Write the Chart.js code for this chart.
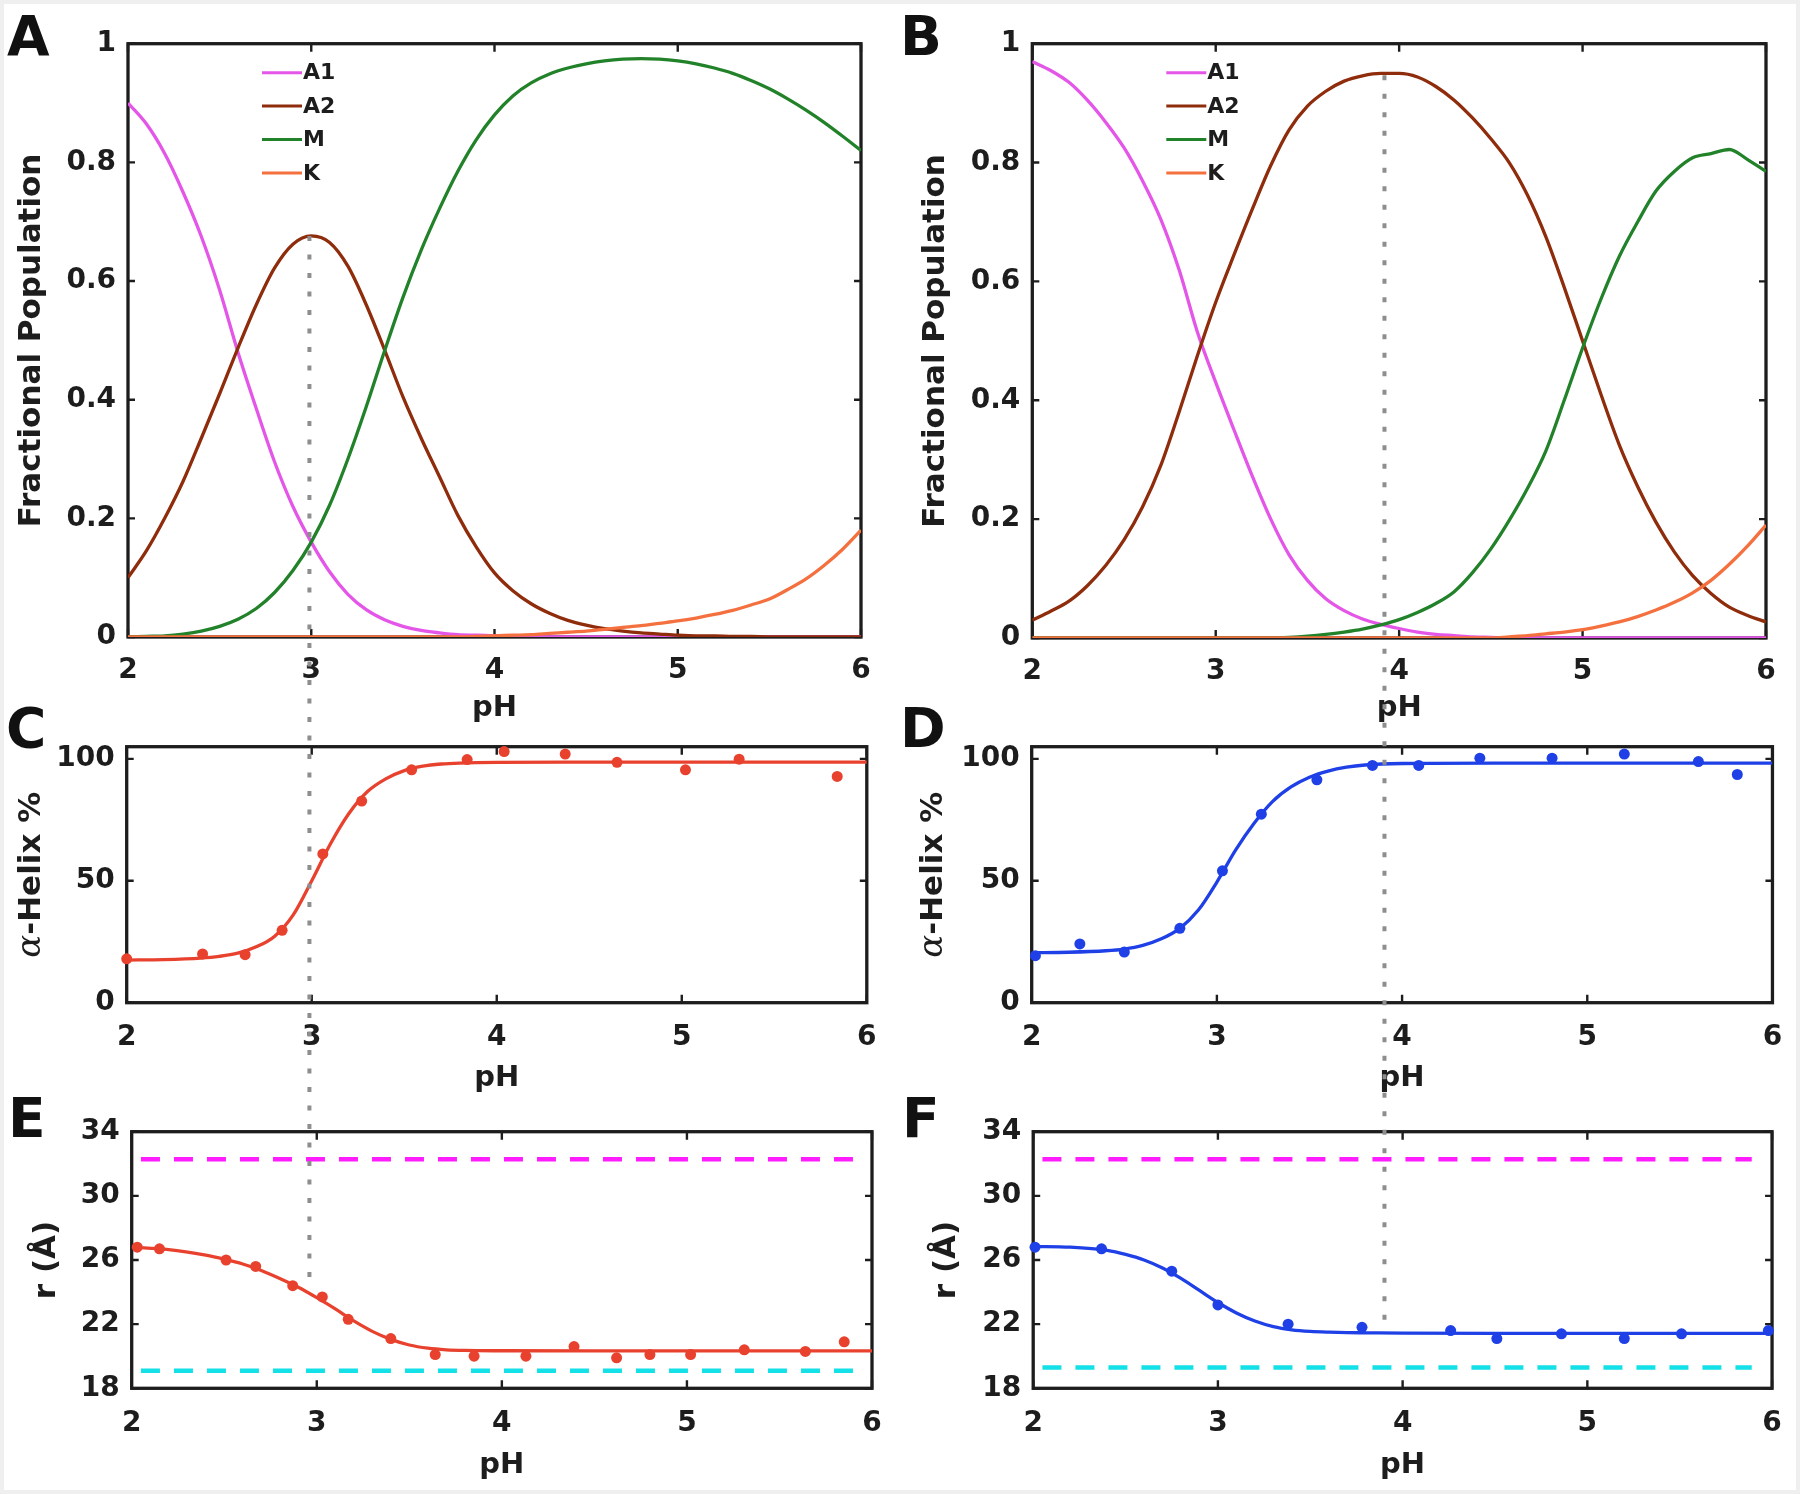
<!DOCTYPE html>
<html>
<head>
<meta charset="utf-8">
<script src="https://cdn.jsdelivr.net/npm/chart.js@4.4.1/dist/chart.umd.min.js"></script>
<style>
html,body{margin:0;padding:0;background:#fff;}
#fig{position:relative;width:1800px;height:1494px;background:#fff;overflow:hidden;box-shadow:inset 0 0 0 4px #efefef;}
#fig canvas{position:absolute;}
#overlay{z-index:10;pointer-events:none;}
.lbl{position:absolute;font-family:"DejaVu Sans",sans-serif;font-weight:bold;font-size:55px;line-height:55px;color:#111;z-index:11;}
</style>
</head>
<body>
<div id="fig">
  <canvas id="cA"></canvas>
  <canvas id="cB"></canvas>
  <canvas id="cC"></canvas>
  <canvas id="cD"></canvas>
  <canvas id="cE"></canvas>
  <canvas id="cF"></canvas>
  <canvas id="overlay"></canvas>
  <div class="lbl" style="left:7px;top:8.5px">A</div>
  <div class="lbl" style="left:900px;top:8.5px">B</div>
  <div class="lbl" style="left:6px;top:701px">C</div>
  <div class="lbl" style="left:900px;top:701px">D</div>
  <div class="lbl" style="left:8px;top:1090.5px">E</div>
  <div class="lbl" style="left:902px;top:1090.5px">F</div>
</div>
<script>
// ---------------- DATA ----------------
const phTicks = [2, 3, 4, 5, 6];
const phTickLabels = ['2', '3', '4', '5', '6'];
const fracTicks = [0, 0.2, 0.4, 0.6, 0.8, 1];
const fracTickLabels = ['0', '0.2', '0.4', '0.6', '0.8', '1'];
const helixTicks = [0, 50, 100];
const helixTickLabels = ['0', '50', '100'];
const radiusTicks = [18, 22, 26, 30, 34];
const radiusTickLabels = ['18', '22', '26', '30', '34'];
const stateNames = ['A1', 'A2', 'M', 'K'];

const phGrid = [2.0,2.1,2.2,2.3,2.4,2.5,2.6,2.7,2.8,2.9,3.0,3.1,3.2,3.3,3.4,3.5,3.6,3.7,3.8,3.9,4.0,
                4.1,4.2,4.3,4.4,4.5,4.6,4.7,4.8,4.9,5.0,5.1,5.2,5.3,5.4,5.5,5.6,5.7,5.8,5.9,6.0];

// Panel A: fractional populations
const popA_A1 = [0.900,0.865,0.815,0.750,0.675,0.585,0.480,0.385,0.295,0.220,0.160,0.110,0.072,0.046,0.029,0.018,0.011,0.007,0.004,0.003,0.002,
                 0.001,0.001,0,0,0,0,0,0,0,0,0,0,0,0,0,0,0,0,0,0];
const popA_A2 = [0.100,0.145,0.200,0.262,0.335,0.410,0.487,0.560,0.622,0.662,0.676,0.665,0.625,0.560,0.484,0.405,0.335,0.270,0.205,0.152,0.108,
                 0.078,0.056,0.040,0.028,0.020,0.014,0.010,0.007,0.005,0.003,0.002,0.002,0.001,0.001,0,0,0,0,0,0];
const popA_M  = [0.000,0.001,0.002,0.005,0.010,0.018,0.030,0.048,0.075,0.112,0.160,0.222,0.300,0.388,0.482,0.572,0.652,0.722,0.785,0.838,0.880,
                 0.912,0.934,0.949,0.959,0.966,0.971,0.974,0.975,0.974,0.971,0.966,0.959,0.950,0.938,0.924,0.907,0.888,0.867,0.844,0.820];
const popA_K  = [0,0,0,0,0,0,0,0,0,0,0,0,0,0,0,0,0,0,0,0.001,0.002,
                 0.003,0.004,0.006,0.008,0.010,0.013,0.016,0.019,0.023,0.027,0.032,0.038,0.045,0.054,0.064,0.080,0.098,0.121,0.148,0.180];

// Panel B: fractional populations
const popB_A1 = [0.970,0.955,0.935,0.905,0.868,0.825,0.770,0.705,0.620,0.515,0.430,0.350,0.272,0.200,0.140,0.097,0.066,0.046,0.032,0.023,0.016,
                 0.010,0.006,0.004,0.002,0.001,0,0,0,0,0,0,0,0,0,0,0,0,0,0,0];
const popB_A2 = [0.030,0.045,0.062,0.088,0.122,0.165,0.220,0.290,0.380,0.475,0.565,0.645,0.722,0.795,0.855,0.895,0.920,0.937,0.946,0.950,0.950,
                 0.944,0.928,0.905,0.875,0.840,0.800,0.745,0.675,0.590,0.500,0.410,0.325,0.255,0.195,0.145,0.105,0.075,0.052,0.038,0.027];
const popB_M  = [0,0,0,0,0,0,0,0,0,0,0,0,0,0,0.001,0.003,0.006,0.010,0.015,0.022,0.031,
                 0.043,0.058,0.078,0.110,0.150,0.198,0.252,0.315,0.400,0.488,0.570,0.642,0.700,0.752,0.785,0.808,0.815,0.822,0.805,0.785];
const popB_K  = [0,0,0,0,0,0,0,0,0,0,0,0,0,0,0,0,0,0,0,0,0,
                 0,0,0,0,0,0.002,0.004,0.007,0.010,0.014,0.020,0.027,0.036,0.047,0.060,0.076,0.097,0.124,0.155,0.190];

// Panel C: alpha-helix % (red)
const phC = [2.0, 2.41, 2.64, 2.84, 3.06, 3.27, 3.54, 3.84, 4.04, 4.37, 4.65, 5.02, 5.31, 5.84];
const helixC = [18.0, 20.0, 19.7, 29.7, 61.0, 82.7, 95.5, 99.7, 103.0, 102.0, 98.6, 95.5, 99.9, 92.8];
const phFit = [2.0,2.2,2.4,2.5,2.6,2.7,2.8,2.9,3.0,3.1,3.2,3.3,3.4,3.5,3.6,3.7,3.8,4.0,4.5,5.0,5.5,6.0];
const helixFitC = [17.5,17.7,18.3,19.0,20.3,22.9,27.3,36.0,50.0,65.0,77.5,86.5,91.8,95.2,97.0,97.9,98.3,98.6,98.7,98.7,98.7,98.7];

// Panel D: alpha-helix % (blue)
const phD = [2.02, 2.26, 2.5, 2.8, 3.03, 3.24, 3.54, 3.84, 4.09, 4.42, 4.81, 5.2, 5.6, 5.81];
const helixD = [19.3, 24.1, 20.8, 30.5, 54.1, 77.3, 91.4, 97.3, 97.3, 100.3, 100.3, 102.0, 98.9, 93.6];
const helixFitD = [20.5,20.7,21.3,22.0,23.5,26.2,30.5,38.0,49.5,62.5,73.5,82.5,88.5,92.5,95.0,96.6,97.5,98.1,98.3,98.3,98.3,98.3];

// Panel E: r (Å) (red)
const phE = [2.03, 2.15, 2.51, 2.67, 2.87, 3.03, 3.17, 3.4, 3.64, 3.85, 4.13, 4.39, 4.62, 4.8, 5.02, 5.31, 5.64, 5.85];
const radiusE = [26.8, 26.7, 26.0, 25.6, 24.4, 23.7, 22.3, 21.1, 20.1, 20.0, 20.0, 20.6, 19.9, 20.1, 20.1, 20.4, 20.3, 20.9];
const radiusFitE = [26.8,26.65,26.3,26.05,25.75,25.35,24.85,24.3,23.65,22.95,22.2,21.55,21.05,20.7,20.5,20.4,20.36,20.34,20.33,20.33,20.33,20.33];

// Panel F: r (Å) (blue)
const phF = [2.01, 2.37, 2.75, 3.0, 3.38, 3.78, 4.26, 4.51, 4.86, 5.2, 5.51, 5.98];
const radiusF = [26.8, 26.7, 25.3, 23.2, 22.0, 21.8, 21.6, 21.1, 21.4, 21.1, 21.4, 21.6];
const radiusFitF = [26.85,26.8,26.6,26.35,26.0,25.5,24.85,24.1,23.35,22.7,22.2,21.85,21.65,21.55,21.5,21.47,21.46,21.44,21.43,21.43,21.43,21.43];

// Reference radii (dashed lines)
const refPhE = [2.05, 5.92];
const refPhF = [2.05, 5.89];
const refOpenE = [32.28, 32.28];
const refCompactE = [19.1, 19.1];
const refOpenF = [32.28, 32.28];
const refCompactF = [19.3, 19.3];

// Vertical guide lines (pH, value at top panel, value at bottom panel)
const guideLeft = {ph: 2.99, top: 0.676, bottom: 24.3};
const guideRight = {ph: 3.92, top: 0.947, bottom: 21.6};

// ---------------- STYLE ----------------
const FONT = '"DejaVu Sans", sans-serif';
const INK = '#1d1d1d';
const C_A1 = '#e456e8', C_A2 = '#8e2c0c', C_M = '#22822a', C_K = '#f4703e';
const RED = '#e8422f', BLUE = '#1e40e6';
const MAGENTA = '#ff1cff', CYAN = '#14e0e8';
const TICK_SIZE = 28, PH_SIZE = 29, YT_SIZE = 31;

function pts(xs, ys) { return xs.map((x, i) => ({x: x, y: ys[i]})); }

const framePlugin = {
  id: 'frame',
  beforeDatasetsDraw(chart) {
    const {ctx, chartArea: a, scales: {x, y}} = chart;
    ctx.save();
    ctx.strokeStyle = INK;
    ctx.lineWidth = 3.3;
    ctx.strokeRect(a.left, a.top, a.right - a.left, a.bottom - a.top);
    ctx.lineWidth = 2.4;
    ctx.beginPath();
    x.ticks.forEach(t => {
      const px = x.getPixelForValue(t.value);
      ctx.moveTo(px, a.bottom); ctx.lineTo(px, a.bottom - 8);
      ctx.moveTo(px, a.top); ctx.lineTo(px, a.top + 8);
    });
    y.ticks.forEach(t => {
      const py = y.getPixelForValue(t.value);
      ctx.moveTo(a.left, py); ctx.lineTo(a.left + 7, py);
      ctx.moveTo(a.right, py); ctx.lineTo(a.right - 7, py);
    });
    ctx.stroke();
    ctx.restore();
  }
};

const stateLegend = {
  id: 'stateLegend',
  afterDatasetsDraw(chart, args, opts) {
    if (!opts || !opts.show) return;
    const {ctx, chartArea: a} = chart;
    ctx.save();
    stateNames.forEach((name, i) => {
      const ds = chart.data.datasets.find(d => d.label === name);
      const yy = a.top + 29 + i * 33.4;
      ctx.strokeStyle = ds.borderColor;
      ctx.lineWidth = 3;
      ctx.beginPath();
      ctx.moveTo(a.left + 134, yy); ctx.lineTo(a.left + 174, yy);
      ctx.stroke();
      ctx.fillStyle = INK;
      ctx.font = 'bold 22px ' + FONT;
      ctx.textBaseline = 'middle';
      ctx.textAlign = 'left';
      ctx.fillText(name, a.left + 175, yy + 1);
    });
    ctx.restore();
  }
};

const helixTitle = {
  id: 'helixTitle',
  afterDraw(chart, args, opts) {
    if (!opts || !opts.show) return;
    const {ctx, chartArea: a} = chart;
    const cy = (a.top + a.bottom) / 2;
    ctx.save();
    ctx.translate(opts.x, cy);
    ctx.rotate(-Math.PI / 2);
    const f1 = 'italic 34px "DejaVu Serif", serif';
    const f2 = 'bold ' + YT_SIZE + 'px ' + FONT;
    ctx.font = f1; const w1 = ctx.measureText('\u03b1').width;
    ctx.font = f2; const w2 = ctx.measureText('-Helix %').width;
    const u = -(w1 + w2) / 2;
    ctx.fillStyle = INK;
    ctx.textBaseline = 'alphabetic';
    ctx.textAlign = 'left';
    ctx.font = f1; ctx.fillText('\u03b1', u, 0);
    ctx.font = f2; ctx.fillText('-Helix %', u + w1, 0);
    ctx.restore();
  }
};

function panel(id, box, area, o) {
  const cv = document.getElementById(id);
  cv.width = box.w; cv.height = box.h;
  cv.style.left = box.x + 'px'; cv.style.top = box.y + 'px';
  const yW = area.l - box.x, xH = box.y + box.h - area.b;
  const padTop = area.t - box.y, padRight = box.x + box.w - area.r;
  return new Chart(cv, {
    type: 'scatter',
    data: {datasets: o.datasets},
    options: {
      responsive: false, animation: false, devicePixelRatio: 1,
      layout: {padding: {top: padTop, right: padRight, left: 0, bottom: 0}},
      plugins: {
        legend: {display: false}, tooltip: {enabled: false},
        stateLegend: {show: !!o.legend},
        helixTitle: {show: !!o.helixX, x: o.helixX}
      },
      scales: {
        x: {
          type: 'linear', min: 2, max: 6,
          afterBuildTicks: s => { s.ticks = phTicks.map(v => ({value: v})); },
          afterFit: s => { s.height = xH; },
          grid: {display: false, drawTicks: false},
          border: {display: false},
          ticks: {color: INK, font: {family: FONT, size: TICK_SIZE, weight: 'bold'}, padding: o.xPad,
                  maxRotation: 0, autoSkip: false, callback: (v, i) => phTickLabels[i]},
          title: {display: true, text: 'pH', color: INK, font: {family: FONT, size: PH_SIZE, weight: 'bold'},
                  padding: {top: 0, bottom: o.pHpad}}
        },
        y: {
          type: 'linear', min: o.yMin, max: o.yMax,
          afterBuildTicks: s => { s.ticks = o.yTicks.map(v => ({value: v})); },
          afterFit: s => { s.width = yW; },
          grid: {display: false, drawTicks: false},
          border: {display: false},
          ticks: {color: INK, font: {family: FONT, size: TICK_SIZE, weight: 'bold'}, padding: 12,
                  autoSkip: false, callback: (v, i) => o.yLabels[i]},
          title: o.yTitle ? {display: true, text: o.yTitle, color: INK,
                  font: {family: FONT, size: YT_SIZE, weight: 'bold'}, padding: {top: o.yTitlePad, bottom: 0}}
                : {display: false}
        }
      }
    },
    plugins: [framePlugin, stateLegend, helixTitle]
  });
}

function curve(label, xs, ys, color, order, width) {
  return {label: label, data: pts(xs, ys), showLine: true, borderColor: color, backgroundColor: color,
          borderWidth: width || 3.3, pointRadius: 0, cubicInterpolationMode: 'monotone', order: order};
}
function dots(label, xs, ys, color) {
  return {label: label, data: pts(xs, ys), showLine: false, borderColor: color, backgroundColor: color,
          pointRadius: 5.5, pointBorderWidth: 0, clip: false, order: 0};
}
function dashed(label, xs, ys, color) {
  return {label: label, data: pts(xs, ys), showLine: true, borderColor: color, borderWidth: 4.5,
          borderDash: [19, 14], pointRadius: 0, order: 5};
}

const boxA = {x: 0, y: 0, w: 900, h: 740}, boxB = {x: 900, y: 0, w: 900, h: 740};
const boxC = {x: 0, y: 700, w: 900, h: 400}, boxD = {x: 900, y: 700, w: 900, h: 400};
const boxE = {x: 0, y: 1090, w: 900, h: 404}, boxF = {x: 900, y: 1090, w: 900, h: 404};

const chartA = panel('cA', boxA, {l: 128, t: 43.7, r: 861, b: 637}, {
  datasets: [curve('A1', phGrid, popA_A1, C_A1, 4), curve('A2', phGrid, popA_A2, C_A2, 3),
             curve('M', phGrid, popA_M, C_M, 2), curve('K', phGrid, popA_K, C_K, 1)],
  yMin: 0, yMax: 1, yTicks: fracTicks, yLabels: fracTickLabels, yTitle: 'Fractional Population',
  yTitlePad: 13.7, xPad: 16.5, pHpad: 14.6, legend: true
});
const chartB = panel('cB', boxB, {l: 1032.3, t: 43.7, r: 1766, b: 638}, {
  datasets: [curve('A1', phGrid, popB_A1, C_A1, 4), curve('A2', phGrid, popB_A2, C_A2, 3),
             curve('M', phGrid, popB_M, C_M, 2), curve('K', phGrid, popB_K, C_K, 1)],
  yMin: 0, yMax: 1, yTicks: fracTicks, yLabels: fracTickLabels, yTitle: 'Fractional Population',
  yTitlePad: 17.7, xPad: 16.5, pHpad: 14.2, legend: true
});
const chartC = panel('cC', boxC, {l: 126.7, t: 746.7, r: 866.8, b: 1002.7}, {
  datasets: [curve('fit', phFit, helixFitC, RED, 1, 3.3), dots('data', phC, helixC, RED)],
  yMin: 0, yMax: 105, yTicks: helixTicks, yLabels: helixTickLabels, helixX: 40,
  xPad: 17.8, pHpad: 4.6
});
const chartD = panel('cD', boxD, {l: 1031.7, t: 746.7, r: 1772.6, b: 1002.7}, {
  datasets: [curve('fit', phFit, helixFitD, BLUE, 1, 3.3), dots('data', phD, helixD, BLUE)],
  yMin: 0, yMax: 105, yTicks: helixTicks, yLabels: helixTickLabels, helixX: 42,
  xPad: 17.8, pHpad: 4.6
});
const chartE = panel('cE', boxE, {l: 131.7, t: 1131.7, r: 872, b: 1388.3}, {
  datasets: [dashed('open', refPhE, refOpenE, MAGENTA), dashed('compact', refPhE, refCompactE, CYAN),
             curve('fit', phFit, radiusFitE, RED, 1, 3.3), dots('data', phE, radiusE, RED)],
  yMin: 18, yMax: 34, yTicks: radiusTicks, yLabels: radiusTickLabels, yTitle: 'r (\u00c5)',
  yTitlePad: 28.7, xPad: 18.2, pHpad: 11.6
});
const chartF = panel('cF', boxF, {l: 1033.2, t: 1131.7, r: 1775.4, b: 1388.3}, {
  datasets: [dashed('open', refPhF, refOpenF, MAGENTA), dashed('compact', refPhF, refCompactF, CYAN),
             curve('fit', phFit, radiusFitF, BLUE, 1, 3.3), dots('data', phF, radiusF, BLUE)],
  yMin: 18, yMax: 34, yTicks: radiusTicks, yLabels: radiusTickLabels, yTitle: 'r (\u00c5)',
  yTitlePad: 28.7, xPad: 18.2, pHpad: 11.6
});

// ---------------- GUIDE LINES (overlay across panels) ----------------
const ov = document.getElementById('overlay');
ov.width = 1800; ov.height = 1494;
ov.style.left = '0px'; ov.style.top = '0px';
const octx = ov.getContext('2d');
function guide(topChart, topBox, botChart, botBox, g) {
  const x = topBox.x + topChart.scales.x.getPixelForValue(g.ph);
  const y1 = topBox.y + topChart.scales.y.getPixelForValue(g.top);
  const y2 = botBox.y + botChart.scales.y.getPixelForValue(g.bottom);
  octx.save();
  octx.strokeStyle = '#8e8e8e';
  octx.lineWidth = 4;
  octx.setLineDash([5, 13.5]);
  octx.beginPath();
  octx.moveTo(x, y1); octx.lineTo(x, y2);
  octx.stroke();
  octx.restore();
}
guide(chartA, boxA, chartE, boxE, guideLeft);
guide(chartB, boxB, chartF, boxF, guideRight);
</script>
</body>
</html>
